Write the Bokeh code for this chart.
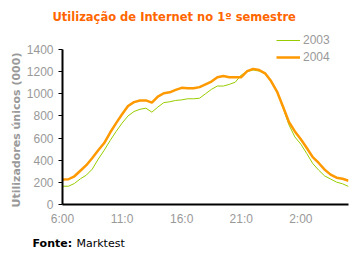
from bokeh.plotting import figure
from bokeh.models import Legend, LegendItem, FixedTicker, Range1d, Title
from bokeh.embed import file_html
from bokeh.resources import INLINE

# hours since 6:00, half-hourly
hours = [i * 0.5 for i in range(49)]
tick_positions = [0, 5, 10, 15, 20]
tick_labels = ["6:00", "11:0", "16:0", "21:0", "2:00"]
y_ticks = [0, 200, 400, 600, 800, 1000, 1200, 1400]

users_2003 = [165, 165, 190, 232, 265, 320, 410, 490, 578, 660, 735, 800, 840, 860, 870, 834,
              880, 920, 928, 940, 945, 955, 955, 960, 1000, 1040, 1070, 1070, 1085, 1105, 1170, 1200,
              1215, 1205, 1180, 1110, 1020, 875, 720, 610, 545, 460, 370, 310, 258, 230, 202, 187, 163]
users_2004 = [225, 228, 255, 305, 355, 420, 490, 555, 650, 735, 815, 890, 925, 940, 940, 920,
              975, 1005, 1013, 1035, 1054, 1050, 1050, 1060, 1085, 1110, 1150, 1160, 1150, 1150, 1150, 1205,
              1225, 1215, 1185, 1115, 1020, 885, 745, 660, 590, 510, 428, 375, 315, 270, 242, 232, 215]

# frame spans canvas y 28..204; value 1400 sits at y 49
y_top = 1400 * 176 / 155

p = figure(width=358, height=260, output_backend="svg", toolbar_location=None,
           x_range=Range1d(0, 24), y_range=Range1d(0, y_top),
           min_border_left=62, min_border_right=10, min_border_top=28, min_border_bottom=56)
p.outline_line_color = None
p.background_fill_color = "white"
p.border_fill_color = "white"
p.xgrid.visible = False
p.ygrid.visible = False

r03 = p.line(hours, users_2003, line_color="#99CC00", line_width=1)
r04 = p.line(hours, users_2004, line_color="#FF9900", line_width=2.5)

# axes
xa = p.xaxis[0]
xa.ticker = FixedTicker(ticks=tick_positions)
xa.major_label_overrides = {t: l for t, l in zip(tick_positions, tick_labels)}
xa.major_tick_out = 0
xa.major_tick_in = 0
xa.minor_tick_out = 0
xa.minor_tick_in = 0
xa.axis_line_color = "black"
xa.axis_line_width = 2
xa.major_label_standoff = 7
xa.major_label_text_font = "Liberation Sans"
xa.major_label_text_font_size = "12px"
xa.major_label_text_color = "#999999"

ya = p.yaxis[0]
ya.ticker = FixedTicker(ticks=y_ticks)
ya.bounds = (0, 1400)
ya.major_tick_out = 4
ya.major_tick_in = 0
ya.minor_tick_out = 0
ya.minor_tick_in = 0
ya.major_tick_line_color = "black"
ya.axis_line_color = "black"
ya.axis_line_width = 2
ya.major_label_standoff = 5
ya.major_label_text_font = "Liberation Sans"
ya.major_label_text_font_size = "12px"
ya.major_label_text_color = "#999999"

ylabel = Title(text="Utilizadores únicos (000)", align="left", offset=-3,
               vertical_align="bottom", standoff=1,
               text_font="DejaVu Sans", text_font_style="bold", text_font_size="11px",
               text_color="#999999")
p.add_layout(ylabel, "left")

legend = Legend(items=[LegendItem(label="2003", renderers=[r03]),
                       LegendItem(label="2004", renderers=[r04])],
                location=(214, 140), orientation="vertical",
                glyph_width=24, glyph_height=14, label_height=14, spacing=3,
                label_standoff=3, padding=0, margin=0,
                border_line_color=None, background_fill_alpha=0,
                label_text_font="Liberation Sans", label_text_font_size="12px",
                label_text_color="#999999")
p.add_layout(legend, "center")

p.title.text = "Utilização de Internet no 1º semestre"
p.title.align = "left"
p.title.offset = -10
p.title.standoff = 10
p.title.text_font = "DejaVu Sans"
p.title.text_font_style = "bold"
p.title.text_font_size = "11.5px"
p.title.text_color = "#FF6600"

src_bold = Title(text="Fonte:", align="left", offset=-30, vertical_align="top", standoff=16,
                 text_font="DejaVu Sans", text_font_style="bold", text_font_size="11px",
                 text_color="black")
p.add_layout(src_bold, "below")
src = Title(text="Marktest", align="left", offset=14, vertical_align="top", standoff=-46,
            text_font="DejaVu Sans", text_font_style="normal", text_font_size="11px",
            text_color="black")
p.add_layout(src, "below")

open("out.html", "w").write(file_html(p, INLINE))
